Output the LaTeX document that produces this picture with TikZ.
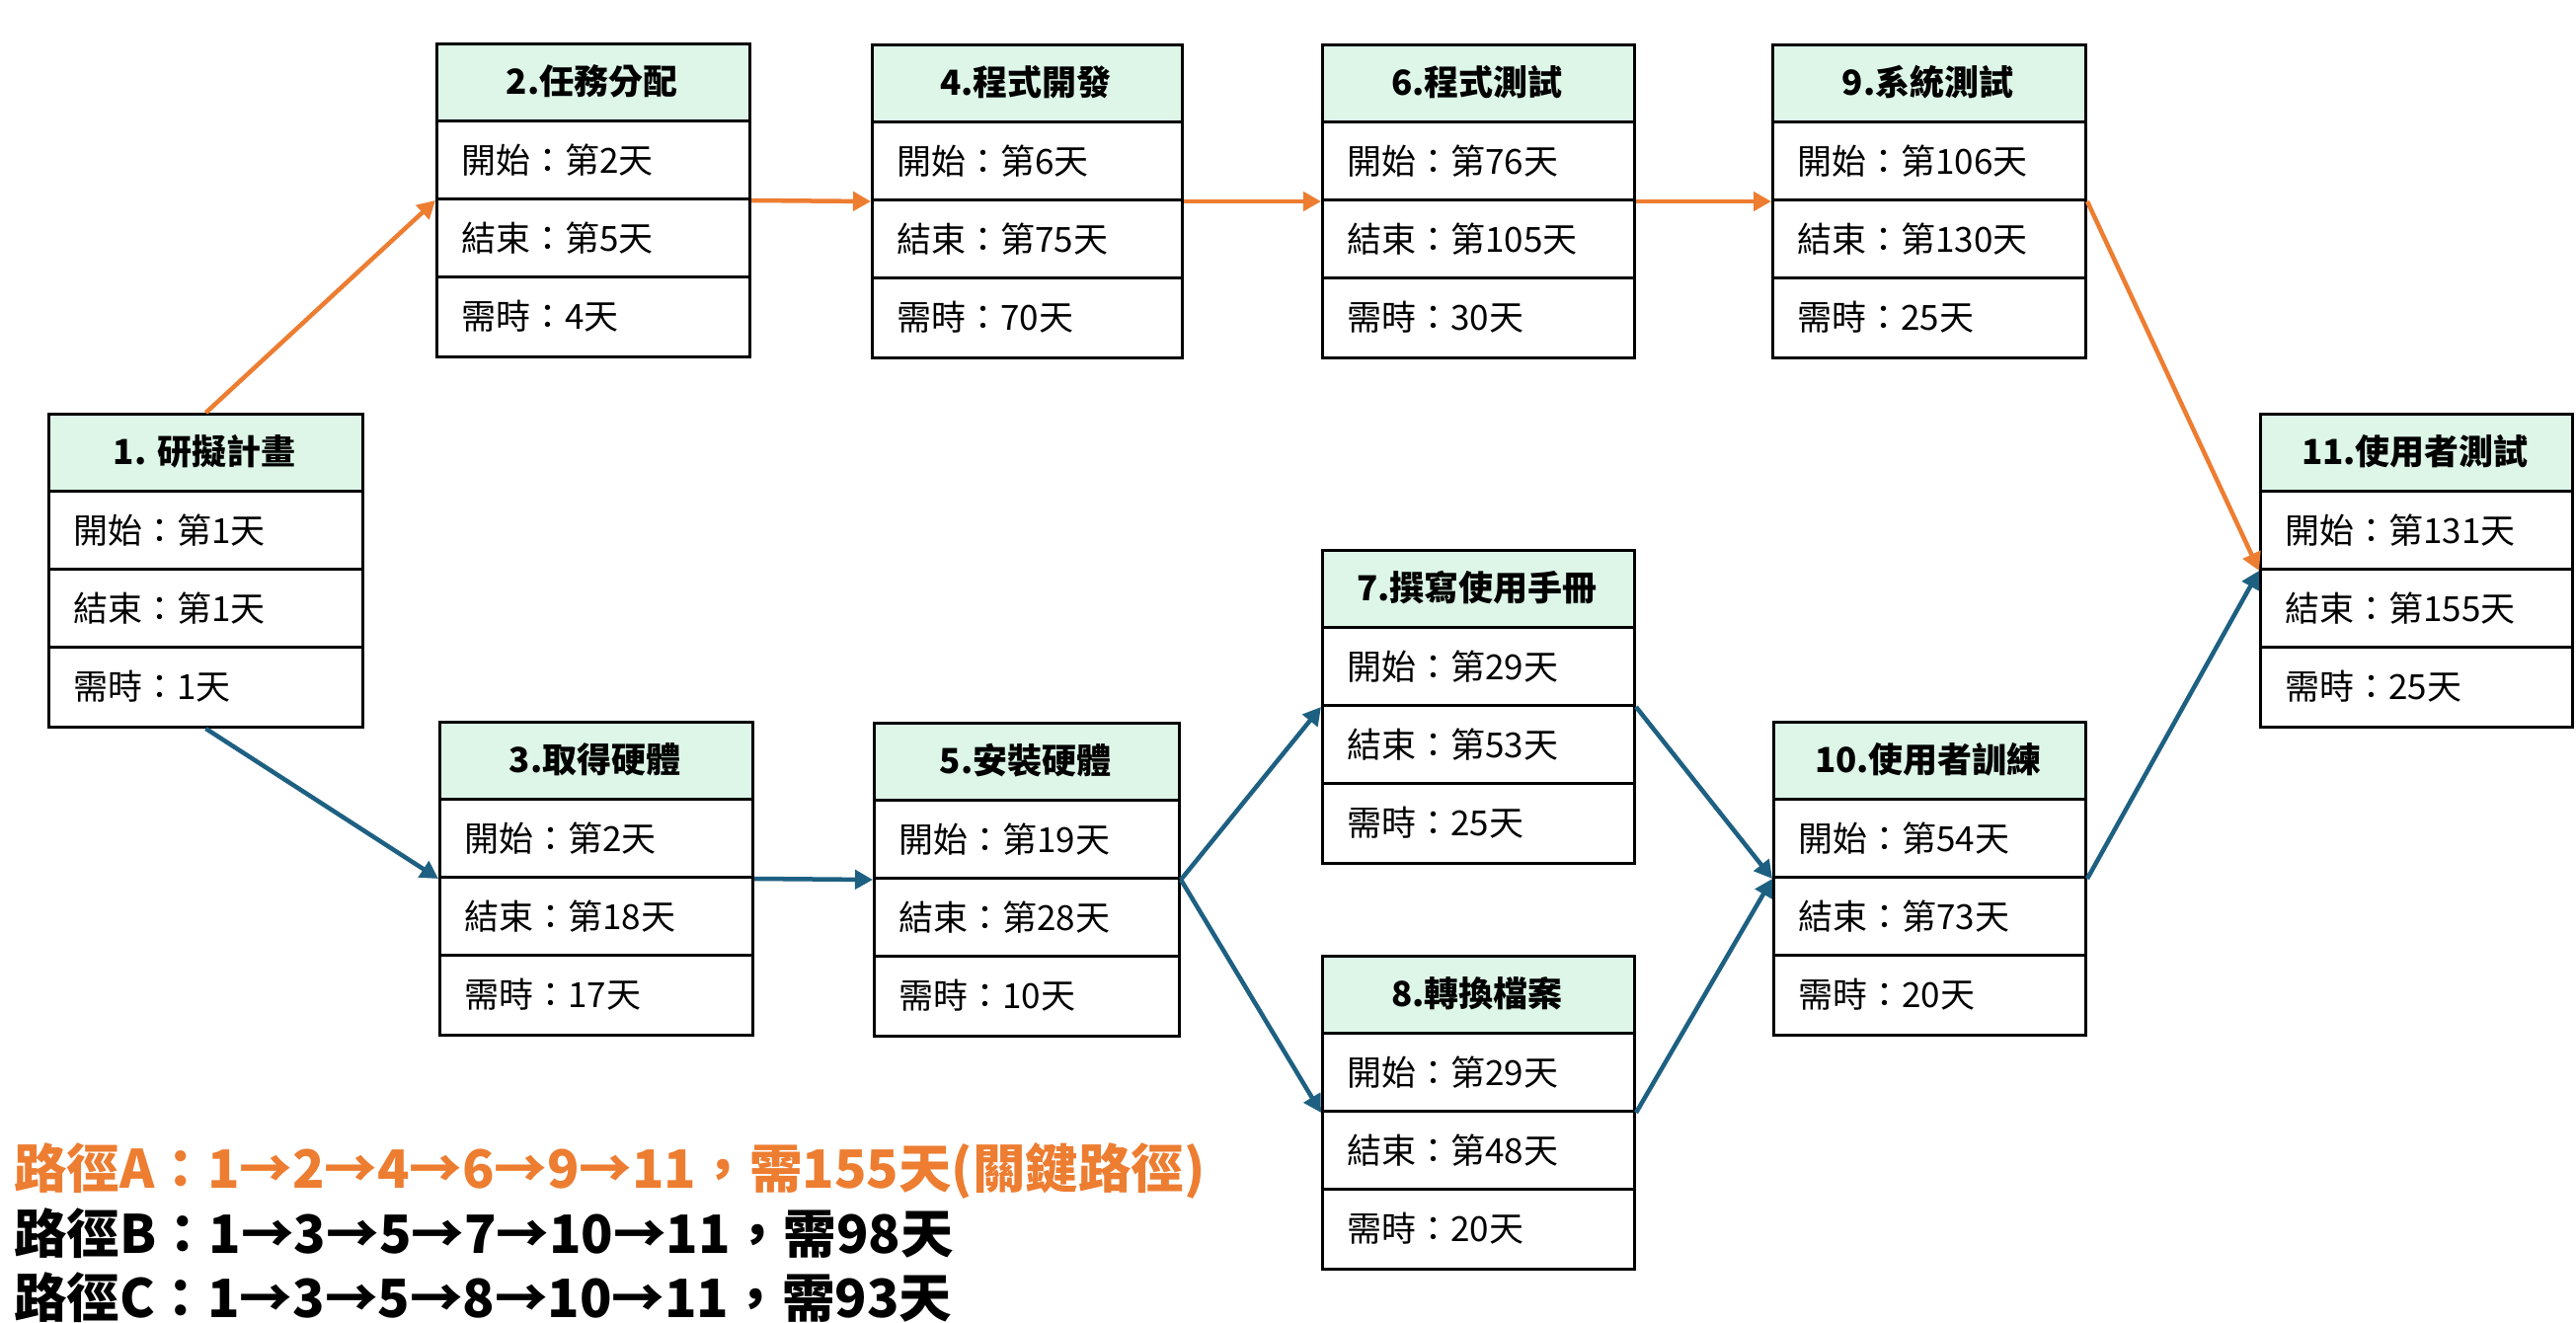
\documentclass[tikz,border=0pt]{standalone}
\usepackage{fontspec}
\setmainfont{Noto Sans CJK TC}
\usetikzlibrary{arrows.meta}
\definecolor{orangeA}{HTML}{ED7D31}
\definecolor{blueB}{HTML}{1D6082}
\definecolor{hdr}{HTML}{DDF6E8}
\tikzset{
  boxframe/.style={draw=black, line width=3pt, inner sep=0pt, minimum height=317pt, anchor=north west},
  rowline/.style={draw=black, line width=3pt},
  hdrtext/.style={inner sep=0pt, font=\bfseries\fontsize{35}{40}\selectfont},
  rowtext/.style={inner sep=0pt, anchor=west, font=\fontsize{35}{40}\selectfont},
  crit/.style={draw=orangeA, line width=4.5pt, -{Triangle[length=18pt,width=19pt]}},
  norm/.style={draw=blueB, line width=4.5pt, -{Triangle[length=18pt,width=19pt]}},
  pathtext/.style={inner sep=0pt, anchor=base west, font=\bfseries\fontsize{53.5}{60}\selectfont}
}
% name, x, y, width, title, start, end, duration
\newcommand{\taskbox}[8]{%
  \fill[hdr] (#2,#3) rectangle ++(#4,79.25);
  \draw[rowline] (#2,{#3+79.25}) -- ++(#4,0);
  \draw[rowline] (#2,{#3+158.5}) -- ++(#4,0);
  \draw[rowline] (#2,{#3+237.75}) -- ++(#4,0);
  \node[boxframe, minimum width=#4pt] (#1) at (#2,#3) {};
  \node[hdrtext] (#1-t) at ({#2+#4/2},{#3+39.6}) {#5};
  \node[rowtext] (#1-s) at ({#2+26},{#3+118.9}) {開始：#6};
  \node[rowtext] (#1-e) at ({#2+26},{#3+198.1}) {結束：#7};
  \node[rowtext] (#1-d) at ({#2+26},{#3+277.4}) {需時：#8};
}
\begin{document}
\begin{tikzpicture}[x=1pt,y=-1pt]
\useasboundingbox[fill=white] (0,0) rectangle (2609,1340);

\taskbox{b1}{48}{418}{318}{1. 研擬計畫}{第1天}{第1天}{1天}
\taskbox{b2}{441}{43}{317}{2.任務分配}{第2天}{第5天}{4天}
\taskbox{b3}{444}{730}{317}{3.取得硬體}{第2天}{第18天}{17天}
\taskbox{b4}{882}{44}{314}{4.程式開發}{第6天}{第75天}{70天}
\taskbox{b5}{884}{731}{309}{5.安裝硬體}{第19天}{第28天}{10天}
\taskbox{b6}{1338}{44}{316}{6.程式測試}{第76天}{第105天}{30天}
\taskbox{b7}{1338}{556}{316}{7.撰寫使用手冊}{第29天}{第53天}{25天}
\taskbox{b8}{1338}{967}{316}{8.轉換檔案}{第29天}{第48天}{20天}
\taskbox{b9}{1794}{44}{317}{9.系統測試}{第106天}{第130天}{25天}
\taskbox{b10}{1795}{730}{316}{10.使用者訓練}{第54天}{第73天}{20天}
\taskbox{b11}{2288}{418}{316}{11.使用者測試}{第131天}{第155天}{25天}

% critical path
\draw[crit] (b1.north) -- (b2.west);
\draw[crit] (b2.east) -- (b4.west);
\draw[crit] (b4.east) -- (b6.west);
\draw[crit] (b6.east) -- (b9.west);
\draw[crit] (b9.east) -- (b11.west);
% other paths
\draw[norm] (b1.south) -- (b3.west);
\draw[norm] (b3.east) -- (b5.west);
\draw[norm] (b5.east) -- (b7.west);
\draw[norm] (b5.east) -- (b8.west);
\draw[norm] (b7.east) -- (b10.west);
\draw[norm] (b8.east) -- (b10.west);
\draw[norm] (b10.east) -- (b11.west);

\node[pathtext, text=orangeA] (pa) at (14,1203) {路徑A：1→2→4→6→9→11，需155天(關鍵路徑)};
\node[pathtext, text=black] (pb) at (14,1269) {路徑B：1→3→5→7→10→11，需98天};
\node[pathtext, text=black] (pc) at (14,1334) {路徑C：1→3→5→8→10→11，需93天};
\end{tikzpicture}
\end{document}
